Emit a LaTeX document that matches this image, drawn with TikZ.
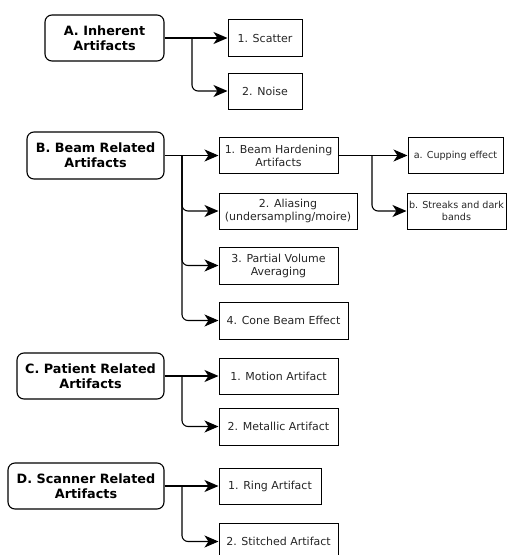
\documentclass[tikz,border=0pt]{standalone}
\usepackage{fontspec}
\setmainfont{DejaVu Sans}
\usetikzlibrary{arrows.meta}
\begin{document}
\begin{tikzpicture}[x=1pt,y=-1pt,
 hdr/.style={draw=black, line width=1.1pt, rounded corners=7pt, align=center,
   font=\fontsize{12.8}{15}\selectfont\bfseries, inner sep=0pt, text=black},
 leaf/.style={draw=black, line width=1pt, align=center,
   font=\fontsize{11}{13}\selectfont, inner sep=0pt, text=black!85},
 smallleaf/.style={leaf, font=\fontsize{9.6}{12}\selectfont},
 conn/.style={line width=1.1pt, -{Stealth[length=14pt,width=12pt,inset=4pt]}},
 bendconn/.style={conn, rounded corners=6pt}]
\useasboundingbox (0,0) rectangle (508,555);
\fill[white] (0,0) rectangle (508,555);

% A
\node[hdr, minimum width=119pt, minimum height=46pt] (A) at (104.5,38) {A. Inherent\\Artifacts};
\node[leaf, minimum width=74pt, minimum height=37pt] (A1) at (265,38) {1. Scatter};
\node[leaf, minimum width=74pt, minimum height=36pt] (A2) at (265,91) {2. Noise};
\coordinate (ja) at (192,0);
\draw[conn] (A.east) -- (A1.west);
\draw[bendconn] (A.east -| ja) |- (A2.west);

% B
\node[hdr, minimum width=137pt, minimum height=47pt] (B) at (95.5,155.5) {B. Beam Related\\Artifacts};
\node[leaf, minimum width=119pt, minimum height=36pt] (B1) at (278.5,155.5) {1. Beam Hardening\\Artifacts};
\node[leaf, minimum width=138pt, minimum height=36pt] (B2) at (288,211) {2. Aliasing\\(undersampling/moire)};
\node[leaf, minimum width=119pt, minimum height=37pt] (B3) at (278.5,265.5) {3. Partial Volume\\Averaging};
\node[leaf, minimum width=129pt, minimum height=37pt] (B4) at (283.5,320.5) {4. Cone Beam Effect};
\node[smallleaf, minimum width=95pt, minimum height=36pt] (Ba) at (455.5,155.5) {a. Cupping effect};
\node[smallleaf, minimum width=99pt, minimum height=36pt] (Bb) at (456.5,211) {b. Streaks and dark\\bands};
\coordinate (jb) at (182,0);
\coordinate (jb1) at (372,0);
\draw[conn] (B.east) -- (B1.west);
\draw[bendconn] (B.east -| jb) |- (B2.west);
\draw[bendconn] (B.east -| jb) |- (B3.west);
\draw[bendconn] (B.east -| jb) |- (B4.west);
\draw[conn] (B1.east) -- (Ba.west);
\draw[bendconn] (B1.east -| jb1) |- (Bb.west);

% C
\node[hdr, minimum width=147pt, minimum height=46pt] (C) at (90.5,376) {C. Patient Related\\Artifacts};
\node[leaf, minimum width=119pt, minimum height=36pt] (C1) at (278.5,376) {1. Motion Artifact};
\node[leaf, minimum width=119pt, minimum height=37pt] (C2) at (278.5,426.5) {2. Metallic Artifact};
\coordinate (jc) at (182,0);
\draw[conn] (C.east) -- (C1.west);
\draw[bendconn] (C.east -| jc) |- (C2.west);

% D
\node[hdr, minimum width=156pt, minimum height=46pt] (D) at (86,486) {D. Scanner Related\\Artifacts};
\node[leaf, minimum width=102pt, minimum height=36pt] (D1) at (270,486) {1. Ring Artifact};
\node[leaf, minimum width=119pt, minimum height=37pt] (D2) at (278.5,541.5) {2. Stitched Artifact};
\coordinate (jd) at (182,0);
\draw[conn] (D.east) -- (D1.west);
\draw[bendconn] (D.east -| jd) |- (D2.west);
\end{tikzpicture}
\end{document}
